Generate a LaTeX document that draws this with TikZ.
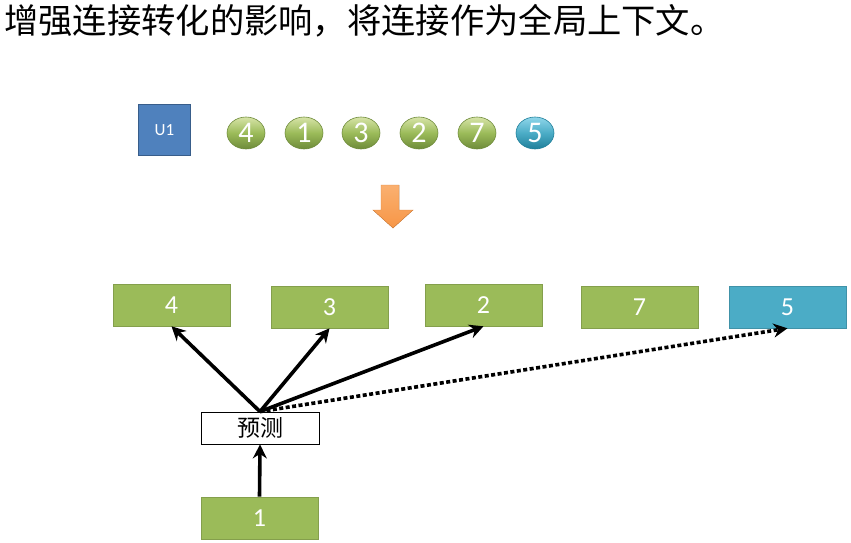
\documentclass[tikz,border=0pt]{standalone}
\usepackage{fontspec}
\setmainfont{Carlito}
\newfontfamily\cjk{Noto Sans CJK SC}
\usetikzlibrary{arrows.meta,shapes.geometric}
\definecolor{olgreen}{HTML}{9BBB59}
\definecolor{olgreenD}{HTML}{6E8B3A}
\definecolor{olgreenL}{HTML}{D7E4A8}
\definecolor{tealbox}{HTML}{4BACC6}
\definecolor{tealD}{HTML}{1F7F9A}
\definecolor{tealL}{HTML}{8FD6EA}
\definecolor{ublue}{HTML}{4F81BD}
\definecolor{ubluedark}{HTML}{385D8A}
\definecolor{orangeA}{HTML}{F79646}
\definecolor{orangeL}{HTML}{FAB070}
\tikzset{
  itembox/.style={fill=olgreen, draw=olgreen!85!black, line width=0.6pt, minimum width=117pt, minimum height=42pt, inner sep=0pt, text=white, font=\fontsize{26}{28}\selectfont},
  tealitem/.style={itembox, fill=tealbox, draw=tealbox!85!black},
  ballg/.style={ellipse, minimum width=38pt, minimum height=32pt, inner sep=0pt, draw=olgreenD, line width=0.6pt, top color=olgreenL, bottom color=olgreenD, middle color=olgreen, text=white, font=\fontsize{30}{32}\selectfont},
  ballt/.style={ballg, draw=tealD, top color=tealL, bottom color=tealD, middle color=tealbox},
  conn/.style={line width=3.6pt, -{Stealth[length=14pt,width=14pt]}},
  dotconn/.style={conn, dash pattern=on 4pt off 2.5pt}
}
\begin{document}
\begin{tikzpicture}[x=1pt,y=-1pt]
\useasboundingbox (0,0) rectangle (851,542);
\node[anchor=west, inner sep=0pt, font=\cjk\fontsize{34.3}{36}\selectfont] (title) at (4,21) {增强连接转化的影响，将连接作为全局上下文。};
% U1
\node[fill=ublue, draw=ubluedark, line width=1.5pt, minimum width=52pt, minimum height=51pt, inner sep=0pt, text=white, font=\fontsize{17}{19}\selectfont] (u1) at (164.5,130) {U1};
% balls
\node[ballg] (c4) at (246,133) {4};
\node[ballg] (c1) at (304,133) {1};
\node[ballg] (c3) at (361,133) {3};
\node[ballg] (c2) at (419,133) {2};
\node[ballg] (c7) at (477,133) {7};
\node[ballt] (c5) at (535,133) {5};
% orange arrow
\fill[top color=orangeL, bottom color=orangeA, draw=orangeA!90!black, line width=0.4pt]
  (381,185) -- (399,185) -- (399,210) -- (413,210) -- (393,228) -- (373,210) -- (381,210) -- cycle;
% boxes
\node[itembox] (b4) at (171.5,305) {4};
\node[itembox] (b3) at (329.5,307) {3};
\node[itembox] (b2) at (483.5,305) {2};
\node[itembox] (b7) at (639.5,307) {7};
\node[tealitem] (b5) at (787.5,307) {5};
% prediction
\node[draw=black, fill=white, line width=0.8pt, minimum width=118pt, minimum height=32pt, inner sep=0pt, font=\cjk\fontsize{23}{25}\selectfont] (pred) at (260,428) {预测};
\node[itembox] (b1) at (259.5,518) {1};
% connectors
\draw[conn] (pred.north) -- (b4.south);
\draw[conn] (pred.north) -- (b3.south);
\draw[conn] (pred.north) -- (b2.south);
\draw[dotconn] (pred.north) -- (b5.south);
\draw[conn] (b1.north) -- (pred.south);
\end{tikzpicture}
\end{document}
